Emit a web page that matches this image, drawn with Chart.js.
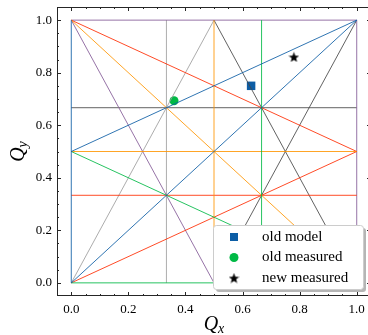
<!DOCTYPE html>
<html>
<head>
<meta charset="utf-8">
<script src="https://cdn.jsdelivr.net/npm/chart.js@4.4.1/dist/chart.umd.min.js"></script>
<style>
  html, body { margin: 0; padding: 0; overflow: hidden; background: #fff; }
  canvas { display: block; }
</style>
</head>
<body>
<canvas id="tuneChart" width="380" height="335"></canvas>
<script>
// axis ticks and range
const tickValues = [0, 0.2, 0.4, 0.6, 0.8, 1.0];
const axisMin = -0.05;
const axisMax = 1.05;

// line colours (science cycle)
const palette = ['#0C5DA5', '#00B945', '#FF9500', '#FF2C00', '#845B97', '#474747', '#9e9e9e'];

// resonance lines up to third order, [x1, y1, x2, y2], one list per colour
const blueLines      = [[0, 0, 0, 1], [0, 0, 1, 1], [0, 0.5, 1, 1]];
const greenLines     = [[0, 0, 1, 0], [2/3, 0, 2/3, 1], [0, 0.5, 1, 0]];
const orangeLines    = [[0.5, 0, 0.5, 1], [0, 0.5, 1, 0.5], [0, 1, 1, 0]];
const redLines       = [[0, 1/3, 1, 1/3], [0, 1, 1, 0.5], [0, 0, 1, 0.5]];
const purpleLines    = [[0, 1, 1, 1], [1, 0, 1, 1], [0, 1, 0.5, 0]];
const darkGrayLines  = [[0, 2/3, 1, 2/3], [0.5, 1, 1, 0], [0.5, 0, 1, 1]];
const lightGrayLines = [[1/3, 0, 1/3, 1], [0, 0, 0.5, 1]];

// working points
const markerLabels = ['old model', 'old measured', 'new measured'];
const oldModel     = [[0.63, 0.75]];
const oldMeasured  = [[0.36, 0.693]];
const newMeasured  = [[0.78, 0.86]];

const serif = '"Liberation Serif", "DejaVu Serif", serif';

function rgba(hex, a) {
    const n = parseInt(hex.slice(1), 16);
    return `rgba(${(n >> 16) & 255}, ${(n >> 8) & 255}, ${n & 255}, ${a})`;
}

function makeStar(size, color) {
    const c = document.createElement('canvas');
    c.width = c.height = size;
    const g = c.getContext('2d');
    const R = size / 2, r = R * 0.42;
    g.beginPath();
    for (let i = 0; i < 10; i++) {
        const rad = i % 2 ? r : R;
        const a = -Math.PI / 2 + i * Math.PI / 5;
        g.lineTo(R + rad * Math.cos(a), R + 0.6 + rad * Math.sin(a));
    }
    g.closePath();
    g.fillStyle = color;
    g.fill();
    return c;
}
const starImg = makeStar(11, '#000000');

const toPoints = arr => arr.map(p => ({ x: p[0], y: p[1] }));

const datasets = [];
[blueLines, greenLines, orangeLines, redLines, purpleLines, darkGrayLines, lightGrayLines]
    .forEach((group, ci) => {
        group.forEach(seg => {
            datasets.push({
                data: [{ x: seg[0], y: seg[1] }, { x: seg[2], y: seg[3] }],
                showLine: true,
                borderColor: rgba(palette[ci], 0.85),
                borderWidth: 1,
                pointRadius: 0,
                isGuide: true
            });
        });
    });

datasets.push({
    label: markerLabels[0], data: toPoints(oldModel),
    pointStyle: 'rect', pointRadius: 6, backgroundColor: '#0C5DA5', borderWidth: 0
});
datasets.push({
    label: markerLabels[1], data: toPoints(oldMeasured),
    pointStyle: 'circle', pointRadius: 4.5, backgroundColor: '#00B945', borderWidth: 0
});
datasets.push({
    label: markerLabels[2], data: toPoints(newMeasured),
    pointStyle: starImg, pointRadius: 5, backgroundColor: '#000000', borderWidth: 0
});

// frame with inward major/minor ticks on all four sides
const framePlugin = {
    id: 'frame',
    afterDatasetsDraw(chart) {
        const { ctx, chartArea: { left, right, top, bottom } } = chart;
        const xs = chart.scales.x, ys = chart.scales.y;
        ctx.save();
        ctx.strokeStyle = '#262626';
        ctx.lineWidth = 1;
        ctx.strokeRect(left + 0.5, top + 0.5, right - left - 1, bottom - top - 1);
        ctx.beginPath();
        for (let k = -1; k <= 21; k++) {
            const v = k * 0.05;
            if (v < axisMin + 1e-9 || v > axisMax - 1e-9) continue;
            const len = k % 4 === 0 ? 4 : 2;
            const px = Math.round(xs.getPixelForValue(v)) + 0.5;
            ctx.moveTo(px, bottom); ctx.lineTo(px, bottom - len);
            ctx.moveTo(px, top); ctx.lineTo(px, top + len);
            const py = Math.round(ys.getPixelForValue(v)) + 0.5;
            ctx.moveTo(left, py); ctx.lineTo(left + len, py);
            ctx.moveTo(right, py); ctx.lineTo(right - len, py);
        }
        ctx.stroke();
        ctx.restore();
    }
};

// Q_x and Q_y axis titles with subscripts
const axisTitlePlugin = {
    id: 'axisTitles',
    afterDraw(chart) {
        const { ctx, chartArea: { left, right, top, bottom } } = chart;
        const draw = (sub, cx, cy, angle) => {
            ctx.save();
            ctx.translate(cx, cy);
            ctx.rotate(angle);
            ctx.fillStyle = '#000';
            ctx.textBaseline = 'alphabetic';
            ctx.font = 'italic 20px ' + serif;
            const wq = ctx.measureText('Q').width;
            ctx.font = 'italic 14px ' + serif;
            const ws = ctx.measureText(sub).width;
            const x0 = -(wq + ws) / 2;
            ctx.font = 'italic 20px ' + serif;
            ctx.fillText('Q', x0, 0);
            ctx.font = 'italic 14px ' + serif;
            ctx.fillText(sub, x0 + wq, 3);
            ctx.restore();
        };
        draw('x', (left + right) / 2, 330, 0);
        draw('y', 24, (top + bottom) / 2, -Math.PI / 2);
    }
};

// legend box in the lower right corner
const legendPlugin = {
    id: 'cornerLegend',
    afterDraw(chart) {
        const { ctx } = chart;
        const bx = 213, by = 225, bw = 150, bh = 64;
        ctx.save();
        // shadow
        ctx.fillStyle = 'rgba(120, 120, 120, 0.55)';
        ctx.beginPath();
        ctx.roundRect(bx + 3, by + 3, bw, bh, 3);
        ctx.fill();
        ctx.fillStyle = '#ffffff';
        ctx.strokeStyle = '#cccccc';
        ctx.lineWidth = 1;
        ctx.beginPath();
        ctx.roundRect(bx + 0.5, by + 0.5, bw, bh, 3);
        ctx.fill();
        ctx.stroke();

        const markers = chart.data.datasets.filter(d => !d.isGuide);
        markers.forEach((d, i) => {
            const y = by + 12 + i * 20.5;
            const mx = 234;
            ctx.fillStyle = d.backgroundColor;
            if (d.pointStyle === 'rect') {
                ctx.fillRect(mx - 4, y - 4, 8, 8);
            } else if (d.pointStyle === 'circle') {
                ctx.beginPath();
                ctx.arc(mx, y, 4.5, 0, Math.PI * 2);
                ctx.fill();
            } else {
                ctx.drawImage(d.pointStyle, mx - 5.5, y - 5.5);
            }
            ctx.fillStyle = '#000';
            ctx.font = '15px ' + serif;
            ctx.textBaseline = 'middle';
            ctx.textAlign = 'left';
            ctx.fillText(d.label, 262, y);
        });
        ctx.restore();
    }
};

new Chart(document.getElementById('tuneChart'), {
    type: 'scatter',
    data: { datasets },
    options: {
        responsive: false,
        animation: false,
        layout: { padding: { top: 7, right: 9, left: 0, bottom: 0 } },
        scales: {
            x: {
                type: 'linear',
                min: axisMin,
                max: axisMax,
                afterBuildTicks: axis => { axis.ticks = tickValues.map(v => ({ value: v })); },
                afterFit: s => { s.height = 39; s.paddingLeft = 0; s.paddingRight = 0; },
                grid: { display: false, drawTicks: false },
                border: { display: false },
                ticks: {
                    padding: 6,
                    maxRotation: 0,
                    color: '#000',
                    font: { family: serif, size: 13 },
                    callback: v => v.toFixed(1)
                }
            },
            y: {
                type: 'linear',
                min: axisMin,
                max: axisMax,
                afterBuildTicks: axis => { axis.ticks = tickValues.map(v => ({ value: v })); },
                afterFit: s => { s.width = 57; s.paddingTop = 0; s.paddingBottom = 0; },
                grid: { display: false, drawTicks: false },
                border: { display: false },
                ticks: {
                    padding: 5,
                    color: '#000',
                    font: { family: serif, size: 13 },
                    callback: v => v.toFixed(1)
                }
            }
        },
        plugins: {
            legend: { display: false },
            tooltip: { enabled: false }
        }
    },
    plugins: [framePlugin, axisTitlePlugin, legendPlugin]
});
</script>
</body>
</html>
